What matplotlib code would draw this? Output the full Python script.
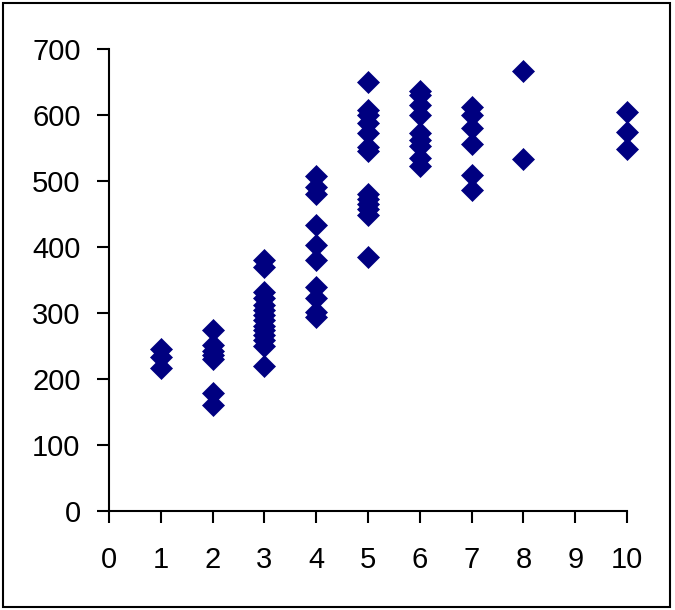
import matplotlib.pyplot as plt
from matplotlib.patches import Rectangle

groups = [1, 2, 3, 4, 5, 6, 7, 8, 10]
values = {
    1: [246, 234, 216],
    2: [274, 251, 243, 236, 231, 179, 161],
    3: [381, 370, 332, 322, 312, 304, 297, 289, 281, 274, 266, 259, 250, 220],
    4: [508, 491, 480, 434, 403, 380, 339, 323, 302, 294],
    5: [650, 608, 600, 588, 572, 552, 545, 481, 473, 465, 457, 449, 385],
    6: [637, 630, 615, 600, 573, 562, 553, 535, 522],
    7: [612, 600, 580, 556, 509, 487],
    8: [666, 534],
    10: [604, 574, 549],
}
x_ticks = list(range(0, 11))
y_ticks = list(range(0, 701, 100))

plt.rcParams['font.family'] = ['Liberation Sans', 'DejaVu Sans']

fig = plt.figure(figsize=(6.75, 6.1), dpi=100)
ax = fig.add_axes([109 / 675, 1 - 511 / 610, (627 - 109) / 675, (511 - 49) / 610])

xs, ys = [], []
for g in groups:
    for v in values[g]:
        xs.append(g)
        ys.append(v)
ax.plot(xs, ys, linestyle='none', marker='D', markersize=11.5,
        color='#000080', markeredgewidth=0.5, markeredgecolor='#000080',
        clip_on=False)

ax.set_xlim(0, 10)
ax.set_ylim(0, 700)
ax.set_xticks(x_ticks)
ax.set_yticks(y_ticks)
ax.spines['top'].set_visible(False)
ax.spines['right'].set_visible(False)
for s in ['left', 'bottom']:
    ax.spines[s].set_linewidth(1.5)
ax.tick_params(axis='both', direction='out', length=8.5, width=1.5,
               labelsize=21, colors='black')
ax.tick_params(axis='x', pad=17)
ax.tick_params(axis='y', pad=12)

# outer frame around the whole chart
fig.patches.append(Rectangle((2.5 / 675, 3 / 610), 667.5 / 675, 604 / 610,
                             transform=fig.transFigure, fill=False,
                             edgecolor='black', linewidth=1.5))

fig.savefig('out.png', dpi=100)
